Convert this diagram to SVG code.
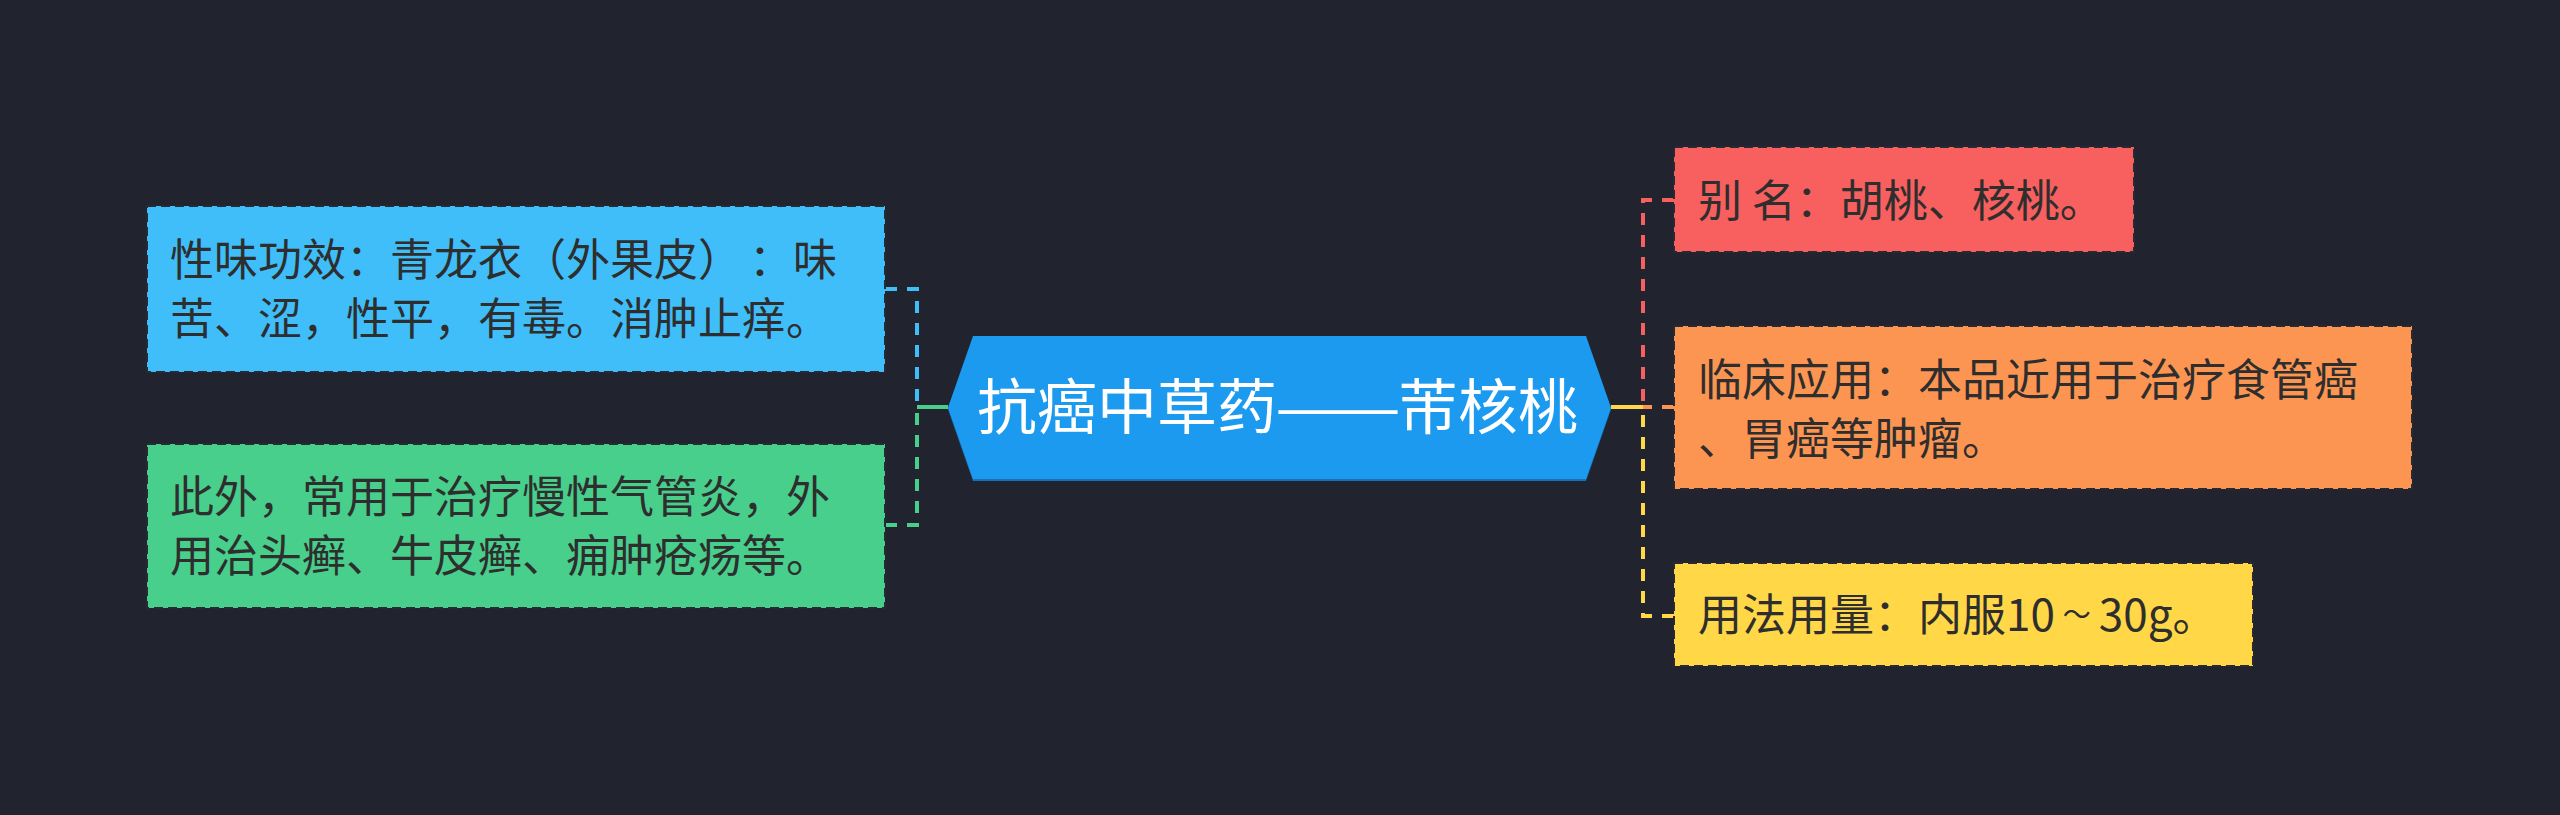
<svg xmlns="http://www.w3.org/2000/svg" width="2560" height="815" viewBox="0 0 2560 815">
<style>
.bg{fill:#21242f}
.box{stroke:#262a35;stroke-width:2;stroke-dasharray:9 5}
.t{font-family:"Noto Sans CJK SC","Noto Sans",sans-serif;font-size:44px;fill:#2e2e2e;text-spacing-trim:space-all}
.root{font-family:"Noto Sans CJK SC","Noto Sans",sans-serif;font-size:60px;fill:#ffffff;text-spacing-trim:space-all}
.c{fill:none;stroke-width:4}
.d{stroke-dasharray:12 10}
</style>
<rect class="bg" x="0" y="0" width="2560" height="815"/>
<g id="connectors">
  <path class="c d" stroke="#3fbefa" d="M885 289 L917 289 L917 407"/>
  <path class="c d" stroke="#47cf8b" d="M885 525 L917 525 L917 407"/>
  <path class="c" stroke="#47cf8b" d="M917 407 L948 407"/>
  <path class="c d" stroke="#f85f5f" d="M1674 200 L1643 200 L1643 407"/>
  <path class="c d" stroke="#ffd747" d="M1674 616 L1643 616 L1643 407"/>
  <path class="c d" stroke="#fd9552" d="M1674 407 L1643 407"/>
  <path class="c" stroke="#ffd747" d="M1611 407 L1643 407"/>
</g>
<g id="root">
  <polygon fill="#1572b8" points="948,409.5 973,338 1586,338 1611,409.5 1586,481 973,481"/>
  <polygon fill="#1b9aef" points="948,407.5 973,336 1586,336 1611,407.5 1586,479 973,479"/>
  <text class="root" y="429"><tspan x="977">抗癌中草药</tspan><tspan x="1275" textLength="126" lengthAdjust="spacingAndGlyphs">——</tspan><tspan x="1398">芾核桃</tspan></text>
</g>
<g id="node-xingwei">
  <rect class="box" x="147" y="206" width="738" height="166" fill="#3fbefa"/>
  <text class="t" y="276"><tspan x="170">性味功效：青龙衣（外果皮）</tspan><tspan x="749">：味</tspan></text>
  <text class="t" x="170" y="335">苦、涩，性平，有毒。消肿止痒。</text>
</g>
<g id="node-ciwai">
  <rect class="box" x="147" y="444" width="738" height="164" fill="#47cf8b"/>
  <text class="t" x="170" y="513">此外，常用于治疗慢性气管炎，外</text>
  <text class="t" x="170" y="572">用治头癣、牛皮癣、痈肿疮疡等。</text>
</g>
<g id="node-bieming">
  <rect class="box" x="1674" y="147" width="460" height="105" fill="#f85f5f"/>
  <text class="t" x="1698" y="217">别 名：胡桃、核桃。</text>
</g>
<g id="node-linchuang">
  <rect class="box" x="1674" y="326" width="738" height="163" fill="#fd9552"/>
  <text class="t" x="1698" y="396">临床应用：本品近用于治疗食管癌</text>
  <text class="t" x="1698" y="455">、胃癌等肿瘤。</text>
</g>
<g id="node-yongfa">
  <rect class="box" x="1674" y="563" width="579" height="103" fill="#ffd747"/>
  <text class="t" x="1698" y="631">用法用量：内服10<tspan dx="8" dy="-6" font-size="28">～</tspan><tspan dx="8" dy="6">30g。</tspan></text>
</g>
</svg>
